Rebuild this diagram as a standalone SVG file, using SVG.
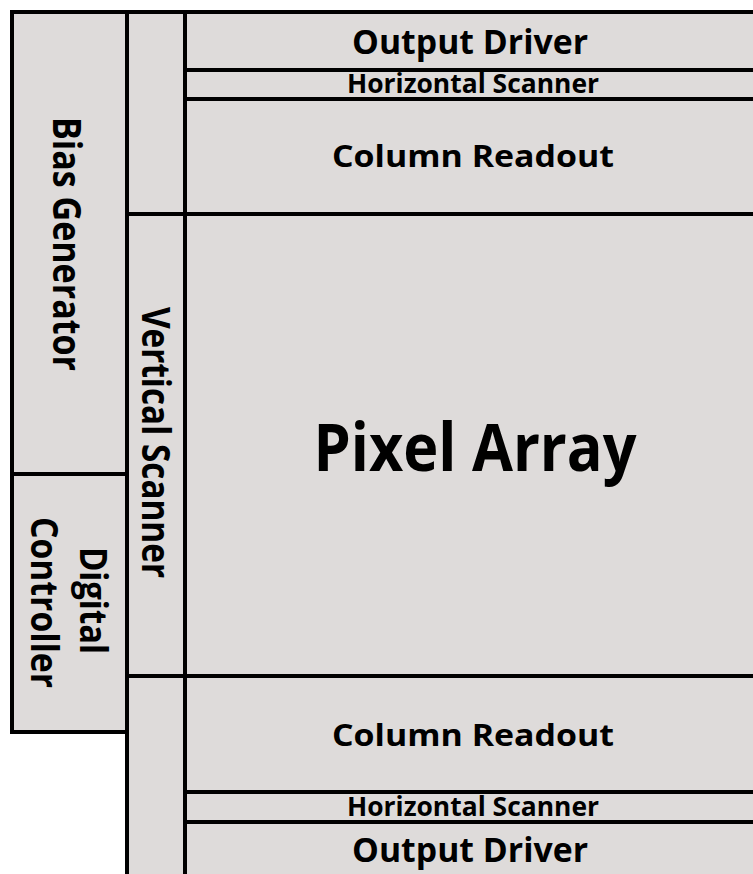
<svg xmlns="http://www.w3.org/2000/svg" width="753" height="874" viewBox="0 0 753 874">
  <style>
    .blk { fill: #dedbda; stroke: #000; stroke-width: 4; }
    .lbl { font-family: "Open Sans", "Noto Sans", "Liberation Sans", sans-serif; font-weight: bold; fill: #000; text-anchor: middle; }
  </style>
  <rect width="753" height="874" fill="#ffffff"/>

  <!-- left column: bias generator and digital controller -->
  <g id="bias-generator">
    <rect class="blk" x="12" y="12" width="115" height="462"/>
    <text class="lbl" font-size="40" textLength="254" lengthAdjust="spacingAndGlyphs" transform="translate(53,244) rotate(90)">Bias Generator</text>
  </g>
  <g id="digital-controller">
    <rect class="blk" x="12" y="474" width="115" height="258"/>
    <text class="lbl" font-size="38" textLength="107" lengthAdjust="spacingAndGlyphs" transform="translate(80,600.5) rotate(90)">Digital</text>
    <text class="lbl" font-size="38" textLength="171" lengthAdjust="spacingAndGlyphs" transform="translate(30.5,602.5) rotate(90)">Controller</text>
  </g>

  <!-- scanner column -->
  <g id="scanner-column-top">
    <rect class="blk" x="127" y="12" width="58" height="202"/>
  </g>
  <g id="vertical-scanner">
    <rect class="blk" x="127" y="214" width="58" height="462"/>
    <text class="lbl" font-size="39" textLength="271" lengthAdjust="spacingAndGlyphs" transform="translate(142,442.5) rotate(90)">Vertical Scanner</text>
  </g>
  <g id="scanner-column-bottom">
    <rect class="blk" x="127" y="676" width="58" height="220"/>
  </g>

  <!-- top readout chain -->
  <g id="output-driver-top">
    <rect class="blk" x="185" y="12" width="590" height="58"/>
    <text class="lbl" x="470" y="54" font-size="33.6" textLength="236" lengthAdjust="spacingAndGlyphs">Output Driver</text>
  </g>
  <g id="horizontal-scanner-top">
    <rect class="blk" x="185" y="70" width="590" height="29"/>
    <text class="lbl" x="473" y="92.5" font-size="26" textLength="252" lengthAdjust="spacingAndGlyphs">Horizontal Scanner</text>
  </g>
  <g id="column-readout-top">
    <rect class="blk" x="185" y="99" width="590" height="115"/>
    <text class="lbl" x="473" y="167" font-size="31" textLength="282" lengthAdjust="spacingAndGlyphs">Column Readout</text>
  </g>

  <!-- pixel array -->
  <g id="pixel-array">
    <rect class="blk" x="185" y="214" width="590" height="462"/>
    <text class="lbl" x="475" y="471" font-size="67" textLength="323" lengthAdjust="spacingAndGlyphs">Pixel Array</text>
  </g>

  <!-- bottom readout chain -->
  <g id="column-readout-bottom">
    <rect class="blk" x="185" y="676" width="590" height="116"/>
    <text class="lbl" x="473" y="746" font-size="31" textLength="282" lengthAdjust="spacingAndGlyphs">Column Readout</text>
  </g>
  <g id="horizontal-scanner-bottom">
    <rect class="blk" x="185" y="792" width="590" height="30"/>
    <text class="lbl" x="473" y="816" font-size="26" textLength="252" lengthAdjust="spacingAndGlyphs">Horizontal Scanner</text>
  </g>
  <g id="output-driver-bottom">
    <rect class="blk" x="185" y="822" width="590" height="74"/>
    <text class="lbl" x="470" y="862" font-size="33.6" textLength="236" lengthAdjust="spacingAndGlyphs">Output Driver</text>
  </g>

  <g id="connectors"/>
</svg>
